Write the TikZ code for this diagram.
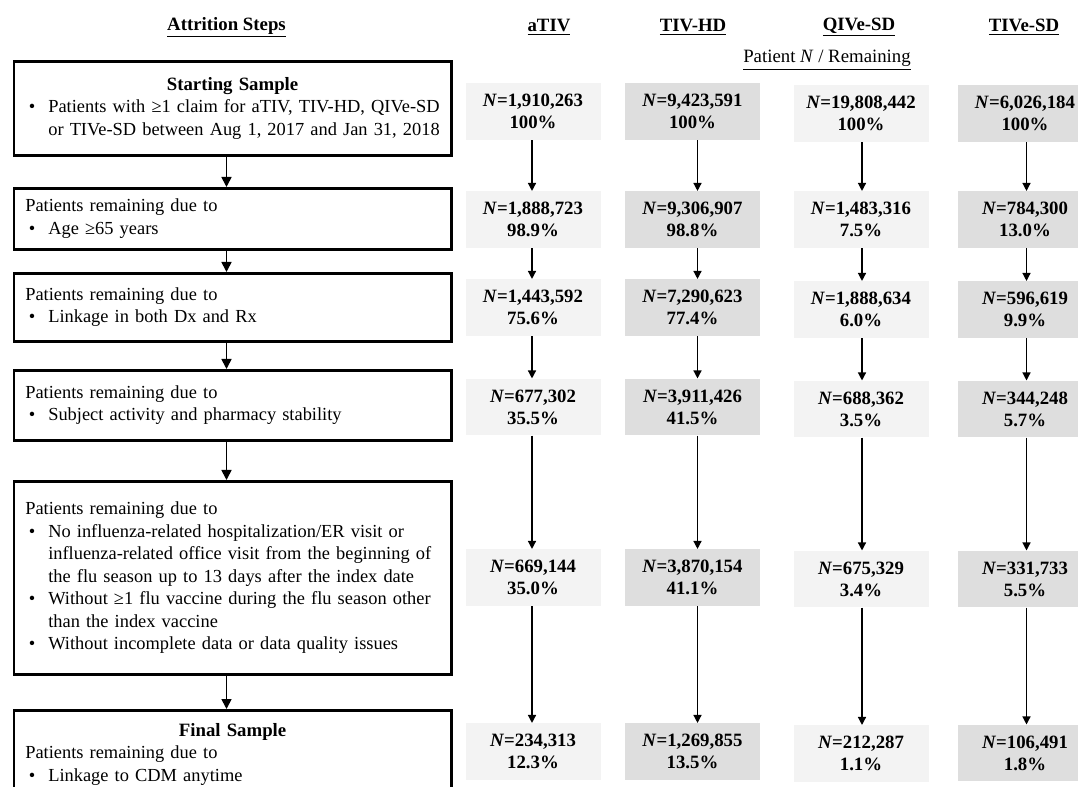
\documentclass[tikz,border=0pt]{standalone}
\usepackage{fontspec}
\setmainfont{Liberation Serif}
\usetikzlibrary{arrows.meta}
\definecolor{lightfill}{RGB}{243,243,243}
\definecolor{darkfill}{RGB}{222,222,222}
\newcommand{\bl}[1]{\par\noindent\hbox to 17.25pt{\hspace{2.6pt}\textbullet\hfil}\mbox{#1}}
\newcommand{\cl}[1]{\par\noindent\hspace*{17.25pt}\mbox{#1}}
\newcommand{\nv}[2]{\textit{N}=#1\\#2\%}
\begin{document}
\begin{tikzpicture}[x=0.75pt,y=-0.75pt,
  every node/.style={font=\fontsize{13.8}{16.9}\selectfont, inner sep=0pt},
  stepbox/.style={draw, line width=2pt, anchor=north west, text width=310.9pt,
    inner xsep=8.6pt, inner ysep=0pt, align=left},
  datbox/.style={minimum width=101.25pt, minimum height=42.4pt, align=center,
    font=\fontsize{14.1}{16.5}\selectfont\bfseries},
  lbox/.style={datbox, fill=lightfill},
  dbox/.style={datbox, fill=darkfill},
  hdr/.style={font=\fontsize{14.1}{16.9}\selectfont\bfseries},
  larrow/.style={line width=1.3pt, -{Triangle[width=7.5pt,length=7.5pt]}},
  darrow/.style={line width=1pt, -{Triangle[width=6pt,length=6pt]}}
]
\useasboundingbox (0,0) rectangle (1078,787);

% headers
\node[hdr] (hsteps) at (226.5,27) {\underline{Attrition Steps}};
\node[hdr] (h1) at (549,27) {\underline{aTIV}};
\node[hdr] (h2) at (693,27) {\underline{TIV-HD}};
\node[hdr] (h3) at (859,27) {\underline{QIVe-SD}};
\node[hdr] (h4) at (1024,27) {\underline{TIVe-SD}};
\node[font=\fontsize{14.1}{16.9}\selectfont] (hpat) at (827,60) {\underline{Patient \textit{N} / Remaining}};

% attrition step boxes
\node[stepbox, minimum height=70.5pt] (s1) at (12.5,60) {%
  \centerline{\fontsize{14.1}{16.9}\selectfont\bfseries Starting Sample}%
  \bl{Patients with ≥1 claim for aTIV, TIV-HD, QIVe-SD}%
  \cl{or TIVe-SD between Aug 1, 2017 and Jan 31, 2018}};
\node[stepbox, minimum height=45.75pt] (s2) at (12.5,187) {%
  \noindent Patients remaining due to\bl{Age ≥65 years}};
\node[stepbox, minimum height=51pt] (s3) at (12.5,272) {%
  \noindent Patients remaining due to\bl{Linkage in both Dx and Rx}};
\node[stepbox, minimum height=52.5pt] (s4) at (12.5,369) {%
  \noindent Patients remaining due to\bl{Subject activity and pharmacy stability}};
\node[stepbox, minimum height=144.75pt] (s5) at (12.5,480) {%
  \noindent Patients remaining due to%
  \bl{No influenza-related hospitalization/ER visit or}%
  \cl{influenza-related office visit from the beginning of}%
  \cl{the flu season up to 13 days after the index date}%
  \bl{Without ≥1 flu vaccine during the flu season other}%
  \cl{than the index vaccine}%
  \bl{Without incomplete data or data quality issues}};
\node[stepbox, minimum height=66pt] (s6) at (12.5,709) {%
  \centerline{\fontsize{14.1}{16.9}\selectfont\bfseries Final Sample}%
  \par\noindent Patients remaining due to%
  \bl{Linkage to CDM anytime}};

\coordinate (ax) at (226.5,0);
\foreach \i/\j in {1/2,2/3,3/4,4/5,5/6}
  \draw[larrow] (s\i.south -| ax) -- (s\j.north -| ax);

% aTIV
\node[lbox] (c1r1) at (533,111.5) {\nv{1,910,263}{100}};
\node[lbox] (c1r2) at (533,219.5) {\nv{1,888,723}{98.9}};
\node[lbox] (c1r3) at (533,307.5) {\nv{1,443,592}{75.6}};
\node[lbox] (c1r4) at (533,407) {\nv{677,302}{35.5}};
\node[lbox] (c1r5) at (533,577.5) {\nv{669,144}{35.0}};
\node[lbox] (c1r6) at (533,751.5) {\nv{234,313}{12.3}};
% TIV-HD
\node[dbox] (c2r1) at (692.5,111.5) {\nv{9,423,591}{100}};
\node[dbox] (c2r2) at (692.5,219.5) {\nv{9,306,907}{98.8}};
\node[dbox] (c2r3) at (692.5,307.5) {\nv{7,290,623}{77.4}};
\node[dbox] (c2r4) at (692.5,407) {\nv{3,911,426}{41.5}};
\node[dbox] (c2r5) at (692.5,577.5) {\nv{3,870,154}{41.1}};
\node[dbox] (c2r6) at (692.5,751.5) {\nv{1,269,855}{13.5}};
% QIVe-SD
\node[lbox] (c3r1) at (861,113.5) {\nv{19,808,442}{100}};
\node[lbox] (c3r2) at (861,219.5) {\nv{1,483,316}{7.5}};
\node[lbox] (c3r3) at (861,309.5) {\nv{1,888,634}{6.0}};
\node[lbox] (c3r4) at (861,409) {\nv{688,362}{3.5}};
\node[lbox] (c3r5) at (861,579) {\nv{675,329}{3.4}};
\node[lbox] (c3r6) at (861,753.5) {\nv{212,287}{1.1}};
% TIVe-SD
\node[dbox] (c4r1) at (1025,113.5) {\nv{6,026,184}{100}};
\node[dbox] (c4r2) at (1025,219.5) {\nv{784,300}{13.0}};
\node[dbox] (c4r3) at (1025,309.5) {\nv{596,619}{9.9}};
\node[dbox] (c4r4) at (1025,409) {\nv{344,248}{5.7}};
\node[dbox] (c4r5) at (1025,579) {\nv{331,733}{5.5}};
\node[dbox] (c4r6) at (1025,753) {\nv{106,491}{1.8}};

% arrow x positions per column
\coordinate (a1) at (532,0);
\coordinate (a2) at (697.5,0);
\coordinate (a3) at (862,0);
\coordinate (a4) at (1026.5,0);
\foreach \c in {1,2,3,4}
  \foreach \r/\n in {1/2,2/3,3/4,4/5,5/6}
    \draw[darrow] (c\c r\r.south -| a\c) -- (c\c r\n.north -| a\c);
\end{tikzpicture}
\end{document}
